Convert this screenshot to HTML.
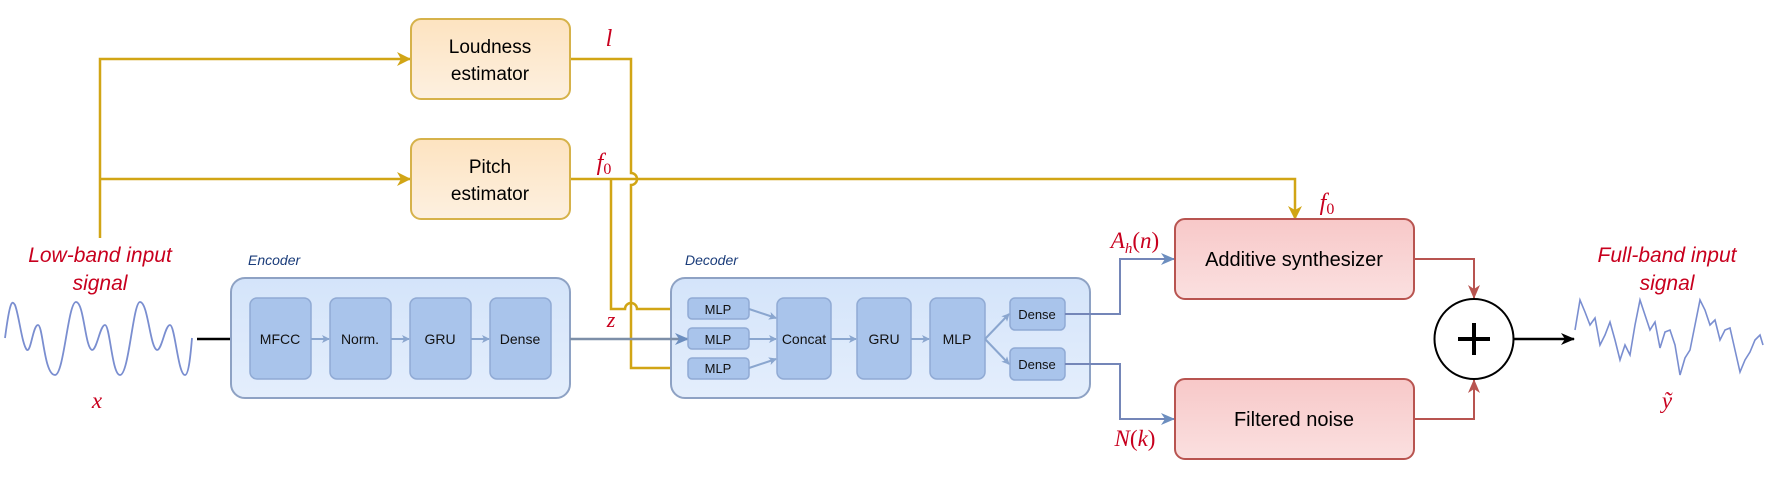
<!DOCTYPE html>
<html><head><meta charset="utf-8"><style>
html,body{margin:0;padding:0;background:#fff;}
svg{display:block;}
text{font-family:"Liberation Sans",sans-serif;}
.lab{font-family:"Liberation Serif",serif;font-style:italic;fill:#c8001e;}
.red{fill:#c8001e;font-style:italic;font-size:21px;}
</style></head><body>
<svg width="1768" height="478" viewBox="0 0 1768 478" xmlns="http://www.w3.org/2000/svg">
<defs>
<linearGradient id="go" x1="0" y1="0" x2="0" y2="1"><stop offset="0" stop-color="#fde3c0"/><stop offset="1" stop-color="#fdf0e0"/></linearGradient>
<linearGradient id="gr" x1="0" y1="0" x2="0" y2="1"><stop offset="0" stop-color="#f8c8c8"/><stop offset="1" stop-color="#fae0e0"/></linearGradient>
<linearGradient id="gb" x1="0" y1="0" x2="0" y2="1"><stop offset="0" stop-color="#d4e4fa"/><stop offset="1" stop-color="#e4eefc"/></linearGradient>
<marker id="ag" markerWidth="14" markerHeight="14" refX="13" refY="7" orient="auto" markerUnits="userSpaceOnUse"><path d="M0,0 L14,7 L0,14 L4,7 Z" fill="#d1a515"/></marker>
<marker id="ab" markerWidth="14" markerHeight="12" refX="13" refY="6" orient="auto" markerUnits="userSpaceOnUse"><path d="M0,0 L14,6 L0,12 L4,6 Z" fill="#000"/></marker>
<marker id="abl" markerWidth="14" markerHeight="12" refX="13" refY="6" orient="auto" markerUnits="userSpaceOnUse"><path d="M0,0 L14,6 L0,12 L4,6 Z" fill="#6c8ebf"/></marker>
<marker id="ar" markerWidth="14" markerHeight="12" refX="13" refY="6" orient="auto" markerUnits="userSpaceOnUse"><path d="M0,0 L14,6 L0,12 L4,6 Z" fill="#b85450"/></marker>
<marker id="ai" markerWidth="8" markerHeight="8" refX="7" refY="4" orient="auto" markerUnits="userSpaceOnUse"><path d="M0,0 L8,4 L0,8 L2,4 Z" fill="#8aa6cf"/></marker>
</defs>
<g fill="none" stroke="#d1a515" stroke-width="2.5">
<path d="M100,238 V59 H410" marker-end="url(#ag)"/>
<path d="M100,179 H410" marker-end="url(#ag)"/>
<path d="M570,59 H631 V173 A6,6 0 0 1 631,185 V368 H688" marker-end="url(#ag)"/>
<path d="M570,179 H1295 V219" marker-end="url(#ag)"/>
<path d="M611,179 V309 H625 A6,6 0 0 1 637,309 H688" marker-end="url(#ag)"/>
</g>
<rect x="411" y="19" width="159" height="80" rx="10" fill="url(#go)" stroke="#d6b24a" stroke-width="2"/>
<rect x="411" y="139" width="159" height="80" rx="10" fill="url(#go)" stroke="#d6b24a" stroke-width="2"/>
<text x="490" y="53" font-size="19" text-anchor="middle">Loudness</text>
<text x="490" y="80" font-size="19" text-anchor="middle">estimator</text>
<text x="490" y="173" font-size="19" text-anchor="middle">Pitch</text>
<text x="490" y="200" font-size="19" text-anchor="middle">estimator</text>
<text class="lab" x="609" y="46" font-size="24" text-anchor="middle">l</text>
<text class="lab" x="604" y="170" font-size="24" text-anchor="middle">f<tspan font-size="16" font-style="normal" dy="4">0</tspan></text>
<text class="lab" x="1327" y="210" font-size="24" text-anchor="middle">f<tspan font-size="16" font-style="normal" dy="4">0</tspan></text>
<text class="lab" x="611" y="327" font-size="22" text-anchor="middle">z</text>
<text class="lab" x="1135" y="248" font-size="23" text-anchor="middle">A<tspan font-size="15" dy="5">h</tspan><tspan dy="-5" font-style="normal">(</tspan>n<tspan font-style="normal">)</tspan></text>
<text class="lab" x="1135" y="446" font-size="23" text-anchor="middle">N<tspan font-style="normal">(</tspan>k<tspan font-style="normal">)</tspan></text>
<text class="lab" x="97" y="408" font-size="23" text-anchor="middle">x</text>
<text class="lab" x="1667" y="408" font-size="23" text-anchor="middle">ỹ</text>
<text class="red" x="100" y="262" text-anchor="middle">Low-band input</text>
<text class="red" x="100" y="290" text-anchor="middle">signal</text>
<text class="red" x="1667" y="262" text-anchor="middle">Full-band input</text>
<text class="red" x="1667" y="290" text-anchor="middle">signal</text>
<path d="M5,338 C10,300 12,300 15,305 C19,315 22,345 27,350 C31,352 33,325 38,325 C43,325 44,375 55,375 C64,375 68,302 76,302 C84,302 85,348 92,350 C97,350 100,325 105,325 C110,325 112,375 120,375 C129,375 133,302 140,302 C148,302 150,348 157,350 C162,350 165,325 170,325 C175,325 178,375 185,375 C189,375 191,350 192,338" fill="none" stroke="#7a8ed0" stroke-width="1.8"/>
<path d="M1575,330 L1580,300 L1585,312 L1590,325 L1595,318 L1600,345 L1605,335 L1610,322 L1615,340 L1620,360 L1625,345 L1630,355 L1635,325 L1640,300 L1645,315 L1650,330 L1655,322 L1660,348 L1665,332 L1670,330 L1675,345 L1680,375 L1685,358 L1690,350 L1695,325 L1700,300 L1705,310 L1710,325 L1715,320 L1720,340 L1725,330 L1730,328 L1735,350 L1740,372 L1745,360 L1750,352 L1755,340 L1760,335 L1763,345" fill="none" stroke="#7a8ed0" stroke-width="1.6"/>
<path d="M197,339 H248" stroke="#000" stroke-width="2.5" marker-end="url(#ab)"/>
<text x="248" y="265" font-size="14" font-style="italic" fill="#1a3c7a">Encoder</text>
<text x="685" y="265" font-size="14" font-style="italic" fill="#1a3c7a">Decoder</text>
<rect x="231" y="278" width="339" height="120" rx="14" fill="url(#gb)" stroke="#8ea2c4" stroke-width="2"/>
<rect x="671" y="278" width="419" height="120" rx="14" fill="url(#gb)" stroke="#8ea2c4" stroke-width="2"/>
<path d="M570,339 H688" stroke="#7d8fa8" stroke-width="2.5" fill="none" marker-end="url(#abl)"/>
<g fill="#a9c4eb" stroke="#90aad4" stroke-width="1.5">
<rect x="250" y="298" width="61" height="81" rx="7"/>
<rect x="330" y="298" width="61" height="81" rx="7"/>
<rect x="410" y="298" width="61" height="81" rx="7"/>
<rect x="490" y="298" width="61" height="81" rx="7"/>
<rect x="688" y="298" width="61" height="21" rx="4"/>
<rect x="688" y="328" width="61" height="21" rx="4"/>
<rect x="688" y="358" width="61" height="21" rx="4"/>
<rect x="777" y="298" width="54" height="81" rx="7"/>
<rect x="857" y="298" width="54" height="81" rx="7"/>
<rect x="930" y="298" width="55" height="81" rx="7"/>
<rect x="1010" y="298" width="55" height="32" rx="5"/>
<rect x="1010" y="348" width="55" height="32" rx="5"/>
</g>
<g stroke="#8aa6cf" stroke-width="2" fill="none">
<path d="M311,339 H329" marker-end="url(#ai)"/>
<path d="M391,339 H409" marker-end="url(#ai)"/>
<path d="M471,339 H489" marker-end="url(#ai)"/>
<path d="M749,309 L776,318" marker-end="url(#ai)"/>
<path d="M749,339 H776" marker-end="url(#ai)"/>
<path d="M749,368 L776,359" marker-end="url(#ai)"/>
<path d="M831,339 H856" marker-end="url(#ai)"/>
<path d="M911,339 H929" marker-end="url(#ai)"/>
<path d="M985,339 L1009,314" marker-end="url(#ai)"/>
<path d="M985,339 L1009,364" marker-end="url(#ai)"/>
</g>
<g font-size="14" text-anchor="middle" fill="#111">
<text x="280" y="344">MFCC</text>
<text x="360" y="344">Norm.</text>
<text x="440" y="344">GRU</text>
<text x="520" y="344">Dense</text>
<text x="718" y="314" font-size="13">MLP</text>
<text x="718" y="344" font-size="13">MLP</text>
<text x="718" y="373" font-size="13">MLP</text>
<text x="804" y="344">Concat</text>
<text x="884" y="344">GRU</text>
<text x="957" y="344">MLP</text>
<text x="1037" y="319" font-size="13">Dense</text>
<text x="1037" y="369" font-size="13">Dense</text>
</g>
<path d="M1065,314 H1120 V259 H1174" stroke="#7486b8" stroke-width="2" fill="none" marker-end="url(#abl)"/>
<path d="M1065,364 H1120 V419 H1174" stroke="#7486b8" stroke-width="2" fill="none" marker-end="url(#abl)"/>
<rect x="1175" y="219" width="239" height="80" rx="10" fill="url(#gr)" stroke="#b85450" stroke-width="2"/>
<rect x="1175" y="379" width="239" height="80" rx="10" fill="url(#gr)" stroke="#b85450" stroke-width="2"/>
<text x="1294" y="266" font-size="20" text-anchor="middle">Additive synthesizer</text>
<text x="1294" y="426" font-size="20" text-anchor="middle">Filtered noise</text>
<path d="M1414,259 H1474 V298" stroke="#b85450" stroke-width="2" fill="none" marker-end="url(#ar)"/>
<path d="M1414,419 H1474 V380" stroke="#b85450" stroke-width="2" fill="none" marker-end="url(#ar)"/>
<ellipse cx="1474" cy="339" rx="39.5" ry="40" fill="#fff" stroke="#000" stroke-width="2"/>
<path d="M1474,323 V355 M1458,339 H1490" stroke="#000" stroke-width="4"/>
<path d="M1514,339 H1574" stroke="#000" stroke-width="2.5" marker-end="url(#ab)"/>
</svg>
</body></html>
